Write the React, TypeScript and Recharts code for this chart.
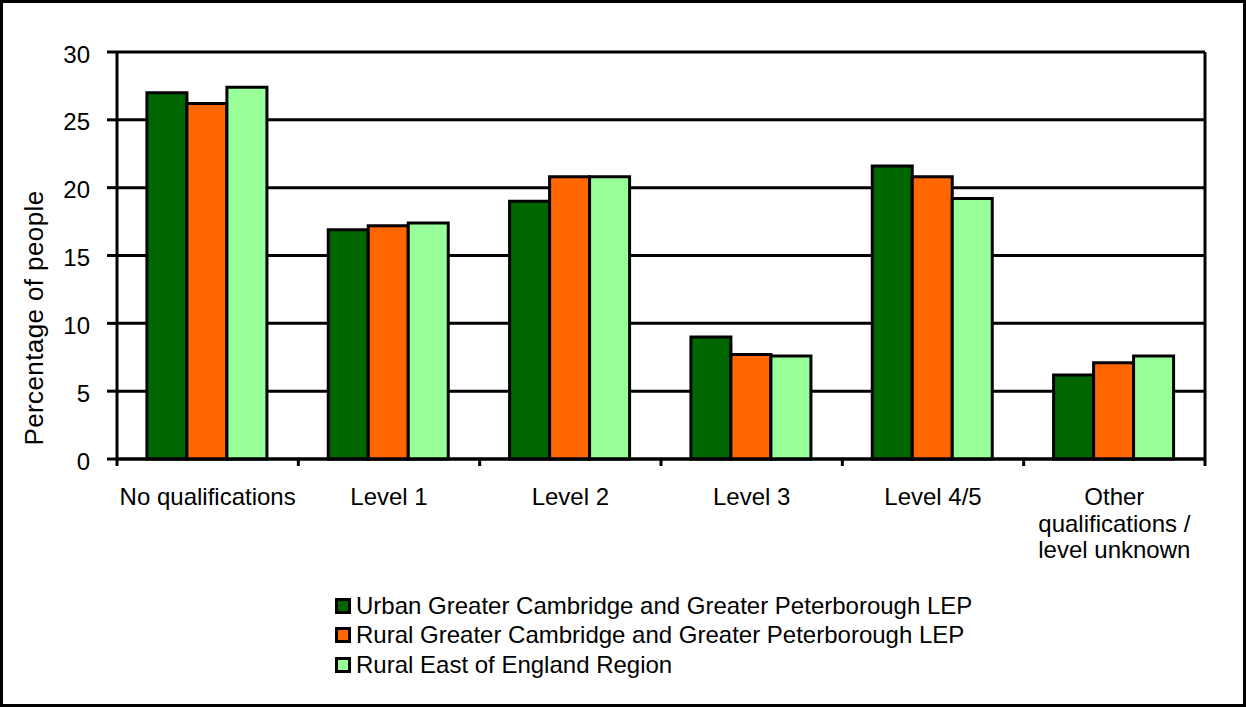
import React from "react";
import { BarChart, Bar, XAxis, YAxis, CartesianGrid, Legend } from "recharts";

// categories along the x axis ("\n" marks the line breaks of the label)
const categories = [
  "No qualifications",
  "Level 1",
  "Level 2",
  "Level 3",
  "Level 4/5",
  "Other\nqualifications /\nlevel unknown",
];

const urbanLep = [27.0, 16.9, 19.0, 9.0, 21.6, 6.2];
const ruralLep = [26.2, 17.2, 20.8, 7.7, 20.8, 7.1];
const ruralEast = [27.4, 17.4, 20.8, 7.6, 19.2, 7.6];

const seriesNames = [
  "Urban Greater Cambridge and Greater Peterborough LEP",
  "Rural Greater Cambridge and Greater Peterborough LEP",
  "Rural East of England Region",
];
const seriesKeys = ["urban", "rural", "east"];
const seriesColors = ["#006600", "#FF6600", "#99FF99"];

const yTicks = [0, 5, 10, 15, 20, 25, 30];

const FONT = "'Liberation Sans', Arial, sans-serif";
const W = 1246;
const H = 707;
const MARGIN = { top: 52, right: 41, left: 0, bottom: 218 };
const Y_AXIS_W = 117;
const PLOT_W = W - MARGIN.left - MARGIN.right - Y_AXIS_W;

const data = categories.map((name, i) => ({
  name,
  urban: urbanLep[i],
  rural: ruralLep[i],
  east: ruralEast[i],
}));

const CategoryTick = (props: any) => {
  const { x, y, payload, index } = props;
  const half = PLOT_W / categories.length / 2;
  const lines = String(payload.value).split("\n");
  return (
    <g>
      <line x1={x - half} x2={x - half} y1={y} y2={y + 7} stroke="#000" strokeWidth={3} />
      {index === categories.length - 1 && (
        <line x1={x + half} x2={x + half} y1={y} y2={y + 7} stroke="#000" strokeWidth={3} />
      )}
      <text x={x} y={y + 46} textAnchor="middle" fontSize={24} fill="#000" fontFamily={FONT}>
        {lines.map((l, i) => (
          <tspan key={i} x={x} dy={i === 0 ? 0 : 26.5}>
            {l}
          </tspan>
        ))}
      </text>
    </g>
  );
};

const renderLegend = () => (
  <div style={{ fontFamily: FONT, fontSize: 24, color: "#000" }}>
    {seriesNames.map((n, i) => (
      <div key={n} style={{ display: "flex", alignItems: "center", height: 29.5, whiteSpace: "nowrap" }}>
        <span
          style={{
            display: "inline-block",
            width: 16,
            height: 16,
            boxSizing: "border-box",
            border: "3px solid #000",
            background: seriesColors[i],
            marginRight: 5,
          }}
        />
        {n}
      </div>
    ))}
  </div>
);

export default function App() {
  return (
    <div style={{ position: "absolute", left: 0, top: 0, width: W, height: H, background: "#fff" }}>
      <BarChart
        width={W}
        height={H}
        data={data}
        margin={MARGIN}
        barCategoryGap="16.5%"
        barGap={0}
      >
        <CartesianGrid
          stroke="#000"
          strokeWidth={3}
          verticalCoordinatesGenerator={({ offset }: any) => [offset.left + offset.width]}
        />
        <XAxis
          dataKey="name"
          tick={<CategoryTick />}
          tickLine={false}
          tickSize={0}
          tickMargin={0}
          axisLine={{ stroke: "#000", strokeWidth: 3 }}
          height={30}
          interval={0}
        />
        <YAxis
          domain={[0, 30]}
          ticks={yTicks}
          width={Y_AXIS_W}
          tickSize={10}
          tickMargin={17}
          tick={{ fontSize: 24, fill: "#000", fontFamily: FONT, dy: 2 }}
          tickLine={{ stroke: "#000", strokeWidth: 3 }}
          axisLine={{ stroke: "#000", strokeWidth: 3 }}
          label={{
            content: () => (
              <text
                transform="translate(34,318) rotate(-90)"
                textAnchor="middle"
                dominantBaseline="central"
                fontSize={26}
                letterSpacing={0.4}
                fill="#000"
                fontFamily={FONT}
              >
                Percentage of people
              </text>
            ),
          }}
        />
        <Legend
          layout="vertical"
          align="center"
          verticalAlign="middle"
          content={renderLegend}
          wrapperStyle={{ left: 335, top: 591, width: 700 }}
        />
        {seriesKeys.map((k, i) => (
          <Bar
            key={k}
            dataKey={k}
            name={seriesNames[i]}
            fill={seriesColors[i]}
            stroke="#000"
            strokeWidth={3}
            isAnimationActive={false}
          />
        ))}
      </BarChart>
      <div
        style={{
          position: "absolute",
          left: 0,
          top: 0,
          width: W,
          height: H,
          boxSizing: "border-box",
          border: "3px solid #000",
          pointerEvents: "none",
        }}
      />
    </div>
  );
}
